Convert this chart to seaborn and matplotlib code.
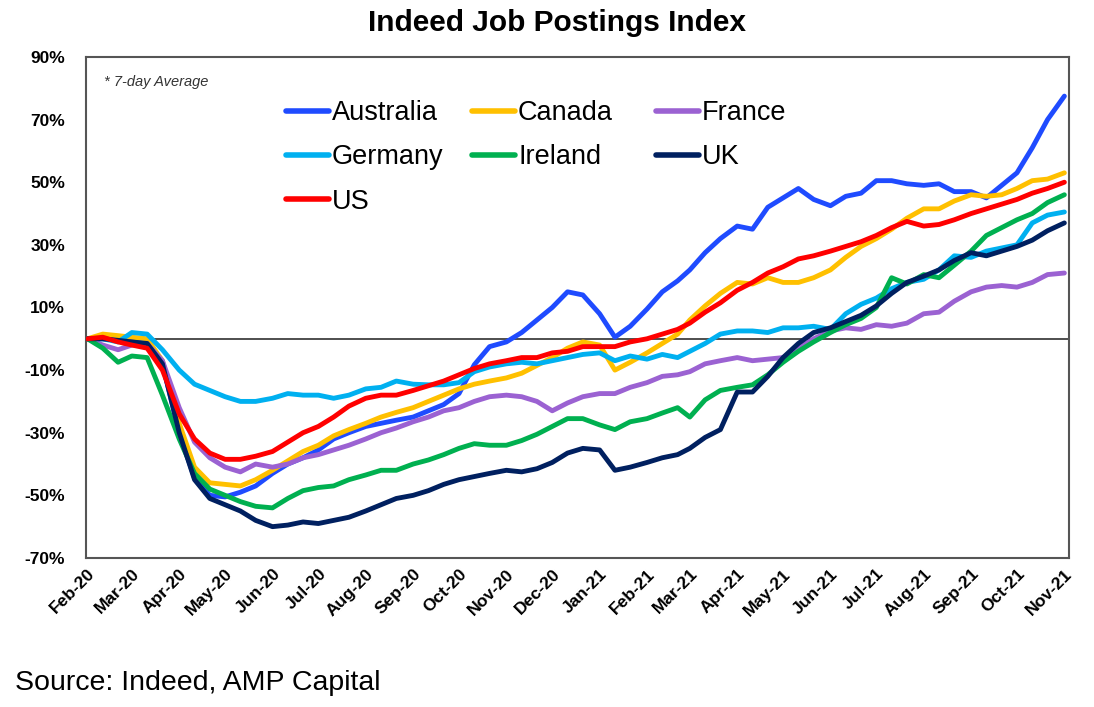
import pandas as pd
import matplotlib
matplotlib.use("Agg")
import matplotlib.pyplot as plt
import matplotlib.dates as mdates
from matplotlib.ticker import FuncFormatter
import seaborn as sns

# observation grid: 1st, 11th and 21st of each month, Feb-20 .. Nov-21
DATES = [pd.Timestamp(y, m, d)
         for y, m in [(2020, mm) for mm in range(2, 13)] + [(2021, mm) for mm in range(1, 12)]
         for d in (1, 11, 21)][:64]

AUSTRALIA = [0, 0, -0.5, -1, -1.5, -8, -30, -44.5, -50, -50.5, -49, -47, -43, -40, -38, -35.5,
             -32, -30, -28, -27, -26, -25, -23, -21, -17.5, -8.3, -2.5, -1, 2, 6, 10, 15,
             14, 8, 0.5, 4, 9.5, 15, 18.5, 22, 27.5, 32, 36, 35, 42, 45,
             48, 44.5, 42.5, 45.5, 46.5, 50.5, 50.5, 49.5, 49, 49.5, 47, 47, 45, 49, 53, 61,
             70, 77.5]
CANADA = [0, 1.5, 1, 0.5, 0, -7, -27, -41, -46, -46.5, -47, -45, -42, -39, -36, -34,
          -31, -29, -27, -25, -23.5, -22, -20, -18, -16, -14.5, -13.5, -12.5, -11, -8.5, -6, -3,
          -1, -2, -10, -7.5, -4.5, -1.5, 1.5, 6, 10.5, 14.5, 18, 17.5, 19.5, 18,
          18, 19.5, 22, 26, 29.5, 32, 35, 38.5, 41.5, 41.5, 44, 46, 45.5, 46, 48, 50.5,
          51, 53]
FRANCE = [0, -2, -3.5, -2, -1.5, -7, -22, -33, -38, -41, -42.5, -40, -41, -40, -38, -37,
          -35.5, -34, -32, -30, -28.5, -26.5, -25, -23, -22, -20, -18.5, -18, -18.5, -20, -23, -20.5,
          -18.5, -17.5, -17.5, -15.5, -14, -12, -11.5, -10.5, -8, -7, -6, -7, -6.5, -6,
          -3, 0, 2.5, 3.5, 3, 4.5, 4, 5, 8, 8.5, 12, 15, 16.5, 17, 16.5, 18,
          20.5, 21]
GERMANY = [0, 0, -1, 2, 1.5, -3.5, -10, -14.5, -16.5, -18.5, -20, -20, -19, -17.5, -18, -18,
           -19, -18, -16, -15.5, -13.5, -14.5, -14.7, -14.7, -14, -10.5, -9, -8, -7.5, -8, -7, -6,
           -5, -4.5, -7, -5.5, -6.5, -5, -6, -4, -1.5, 1.5, 2.5, 2.5, 2, 3.5,
           3.5, 4, 3, 8, 11, 13, 16, 18, 19, 22, 26.5, 26, 28, 29, 30, 37,
           39.5, 40.5]
IRELAND = [0, -3, -7.5, -5.5, -6, -18, -32, -43, -48, -50, -52, -53.5, -54, -51, -48.5, -47.5,
           -47, -45, -43.5, -42, -42, -40, -38.7, -37, -35, -33.5, -34, -34, -32.5, -30.5, -28, -25.5,
           -25.5, -27.5, -29, -26.5, -25.5, -23.7, -22, -25, -19.5, -16.5, -15.5, -14.7, -11.5, -7.5,
           -4, -1, 2, 4.5, 6.5, 10, 19.5, 17.5, 20.5, 19.5, 23.5, 28, 33, 35.5, 38, 40,
           43.5, 46]
UK = [0, 0, -0.5, -1, -1.5, -8, -30, -45, -51, -53, -55, -58, -60, -59.5, -58.5, -59,
      -58, -57, -55, -53, -51, -50, -48.5, -46.5, -45, -44, -43, -42, -42.5, -41.5, -39.5, -36.5,
      -35, -35.5, -42, -41, -39.5, -38, -37, -35, -31.5, -29, -17, -17, -12, -6,
      -1.5, 2, 3.5, 5.5, 7.5, 10.5, 14.5, 18, 20, 22, 25, 27.5, 26.5, 28, 29.5, 31.5,
      34.5, 37]
US = [0, 0.5, -1, -2, -3, -10, -24, -32, -36.5, -38.5, -38.5, -37.5, -36, -33, -30, -28,
      -25, -21.5, -19, -18, -18, -16.5, -15, -13.5, -11.5, -9.5, -8, -7, -6, -6, -4.5, -4,
      -2.5, -2.5, -2.5, -1, 0, 1.5, 3, 5, 8.5, 11.5, 15.5, 18, 21, 23,
      25.5, 26.5, 28, 29.5, 31, 33, 35.5, 37.5, 36, 36.5, 38, 40, 41.5, 43, 44.5, 46.5,
      48, 50]

SERIES = {"Australia": AUSTRALIA, "Canada": CANADA, "France": FRANCE, "Germany": GERMANY,
          "Ireland": IRELAND, "UK": UK, "US": US}
COLORS = {"Australia": "#1f4bff", "Canada": "#ffc000", "France": "#9b62d2",
          "Germany": "#00b0f0", "Ireland": "#00b050", "UK": "#002060", "US": "#ff0000"}
# legend laid out as three columns, as in the original
LEGEND_COLUMNS = [["Australia", "Germany", "US"], ["Canada", "Ireland"], ["France", "UK"]]
LEGEND_X = [286, 472, 656]

Y_TICKS = list(range(-70, 91, 20))

df = pd.concat([pd.DataFrame({"date": DATES, "value": v, "country": k})
                for k, v in SERIES.items()], ignore_index=True)

sns.set_style("white")
plt.rcParams["font.family"] = ["Liberation Sans", "DejaVu Sans"]
plt.rcParams["text.color"] = "black"
plt.rcParams["xtick.color"] = "black"
plt.rcParams["ytick.color"] = "black"

fig = plt.figure(figsize=(10.94, 7.07), dpi=100)
ax = fig.add_axes([0.0786, 0.2108, 0.8985, 0.7086])

ax.axhline(0, color="#404040", lw=1.3, zorder=1)
sns.lineplot(data=df, x="date", y="value", hue="country", palette=COLORS,
             linewidth=3.5, ax=ax, legend=False, zorder=3)

ax.set_xlim(pd.Timestamp(2020, 1, 31), pd.Timestamp(2021, 11, 4))
ax.set_ylim(-70, 90)
ax.set_yticks(Y_TICKS)
ax.yaxis.set_major_formatter(FuncFormatter(lambda v, _: f"{int(v)}%"))
ax.xaxis.set_major_locator(mdates.MonthLocator())
ax.xaxis.set_major_formatter(mdates.DateFormatter("%b-%y"))
ax.set_xlabel("")
ax.set_ylabel("")
ax.tick_params(axis="both", length=0, labelsize=12.5, labelcolor="black")
ax.tick_params(axis="y", pad=15)
ax.tick_params(axis="x", pad=6)
for lab in ax.get_yticklabels() + ax.get_xticklabels():
    lab.set_fontweight("bold")
for lab in ax.get_xticklabels():
    lab.set_rotation(45)
    lab.set_ha("right")
    lab.set_rotation_mode("anchor")
for sp in ax.spines.values():
    sp.set_visible(True)
    sp.set_color("#555555")
    sp.set_linewidth(1.5)

for names, xpx in zip(LEGEND_COLUMNS, LEGEND_X):
    handles = [plt.Line2D([], [], color=COLORS[k], lw=4) for k in names]
    leg = fig.legend(handles, names, loc="upper left", bbox_to_anchor=(xpx / 1094, 1 - 100 / 707),
                     frameon=False, fontsize=19.5, handlelength=1.6, handletextpad=0.1,
                     labelspacing=0.68, borderpad=0, borderaxespad=0)
    for t in leg.get_texts():
        t.set_color("black")

ax.text(0.018, 0.965, "* 7-day Average", transform=ax.transAxes, fontsize=10.5,
        style="italic", color="#333333", va="top")

fig.text(557 / 1094, 1 - 23 / 707, "Indeed Job Postings Index", ha="center", va="center",
         fontsize=21.5, fontweight="bold")
fig.text(15 / 1094, 1 - 690 / 707, "Source: Indeed, AMP Capital", ha="left", va="baseline",
         fontsize=20.5)

fig.savefig("out.png", dpi=100)
